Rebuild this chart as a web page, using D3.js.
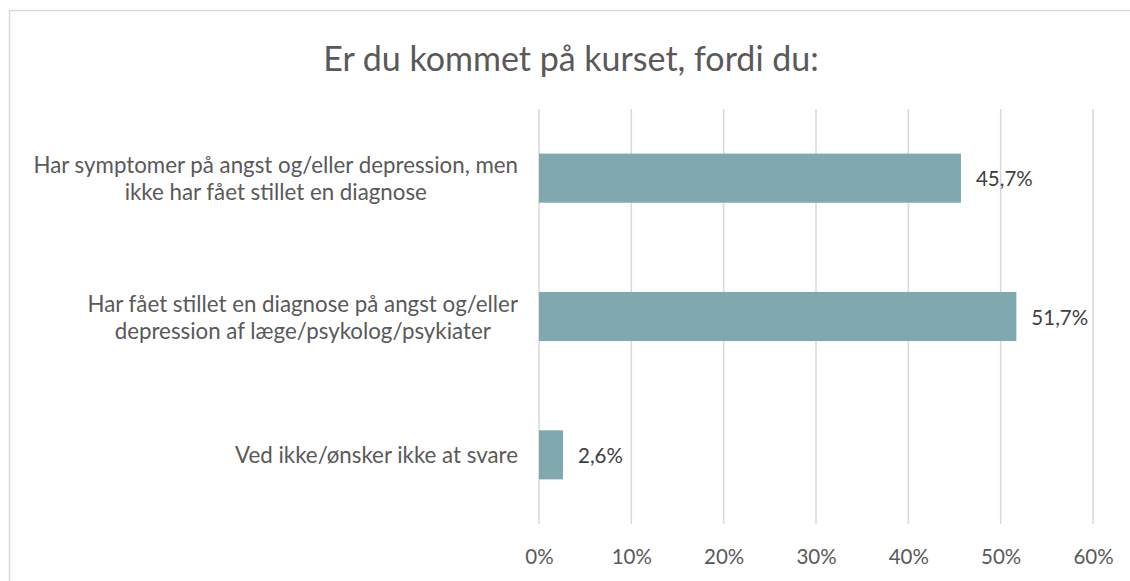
<!DOCTYPE html>
<html>
<head>
<meta charset="utf-8">
<script src="https://cdn.jsdelivr.net/npm/d3@7"></script>
<style>
  body { margin: 0; background: #fff; }
  svg { display: block; font-family: Lato, "Open Sans", sans-serif; }
</style>
</head>
<body>
<div id="chart"></div>
<script>
const title = "Er du kommet på kurset, fordi du:";
const categories = [
  ["Har symptomer på angst og/eller depression, men", "ikke har fået stillet en diagnose"],
  ["Har fået stillet en diagnose på angst og/eller", "depression af læge/psykolog/psykiater"],
  ["Ved ikke/ønsker ikke at svare"]
];
const values = [0.457, 0.517, 0.026];
const valueLabels = ["45,7%", "51,7%", "2,6%"];
const ticks = [0, 0.1, 0.2, 0.3, 0.4, 0.5, 0.6];

const width = 1130, height = 581;
const margin = {top: 109, right: 37, bottom: 57, left: 539};
const tickSize = "20.5px";
const catSize = "22.3px";

const svg = d3.select("#chart").append("svg")
    .attr("width", width)
    .attr("height", height);

// chart frame (right/bottom edges fall outside the picture)
svg.append("rect")
    .attr("x", 9.5).attr("y", 10.5)
    .attr("width", 1140).attr("height", 600)
    .attr("fill", "none")
    .attr("stroke", "#d9d9d9")
    .attr("stroke-width", 1.5);

const x = d3.scaleLinear()
    .domain([0, 0.6])
    .range([margin.left, width - margin.right]);

const y = d3.scaleBand()
    .domain(d3.range(categories.length))
    .range([margin.top, height - margin.bottom])
    .paddingInner(0.645)
    .paddingOuter(0.3225);

svg.append("text")
    .attr("x", 571)
    .attr("y", 57)
    .attr("text-anchor", "middle")
    .attr("dominant-baseline", "central")
    .attr("fill", "#595959")
    .style("font-size", "34px")
    .text(title);

// gridlines
svg.append("g")
    .selectAll("line")
    .data(ticks)
    .join("line")
    .attr("x1", d => x(d)).attr("x2", d => x(d))
    .attr("y1", margin.top).attr("y2", height - margin.bottom)
    .attr("stroke", "#d9d9d9")
    .attr("stroke-width", 1.5);

// x axis labels
const xAxis = d3.axisBottom(x)
    .tickValues(ticks)
    .tickFormat(d3.format(".0%"))
    .tickSize(0)
    .tickPadding(0);

svg.append("g")
    .attr("transform", `translate(0,${height - 24})`)
    .call(xAxis)
    .call(g => g.select(".domain").remove())
    .call(g => g.selectAll("text")
        .attr("dy", "0.35em")
        .attr("y", 0)
        .attr("fill", "#595959")
        .style("font-family", "Lato, 'Open Sans', sans-serif")
        .style("font-size", tickSize));

// bars
svg.append("g")
    .selectAll("rect")
    .data(values)
    .join("rect")
    .attr("x", x(0))
    .attr("y", (d, i) => y(i))
    .attr("width", d => x(d) - x(0))
    .attr("height", y.bandwidth())
    .attr("fill", "#80a9af");

// value labels
svg.append("g")
    .selectAll("text")
    .data(values)
    .join("text")
    .attr("x", d => x(d) + 15)
    .attr("y", (d, i) => y(i) + y.bandwidth() / 2)
    .attr("dominant-baseline", "central")
    .attr("fill", "#404040")
    .style("font-size", tickSize)
    .text((d, i) => valueLabels[i]);

// category labels: block right-aligned, lines centred within block
const labelRight = 518;
const lineGap = 27;
categories.forEach((lines, i) => {
  const cy = y(i) + y.bandwidth() / 2;
  const g = svg.append("g");
  const texts = g.selectAll("text")
      .data(lines)
      .join("text")
      .attr("y", (d, j) => cy + (j - (lines.length - 1) / 2) * lineGap)
      .attr("dominant-baseline", "central")
      .attr("text-anchor", "middle")
      .attr("fill", "#595959")
      .style("font-size", catSize)
      .text(d => d);
  const maxW = d3.max(texts.nodes(), n => n.getComputedTextLength());
  texts.attr("x", labelRight - maxW / 2);
});
</script>
</body>
</html>
